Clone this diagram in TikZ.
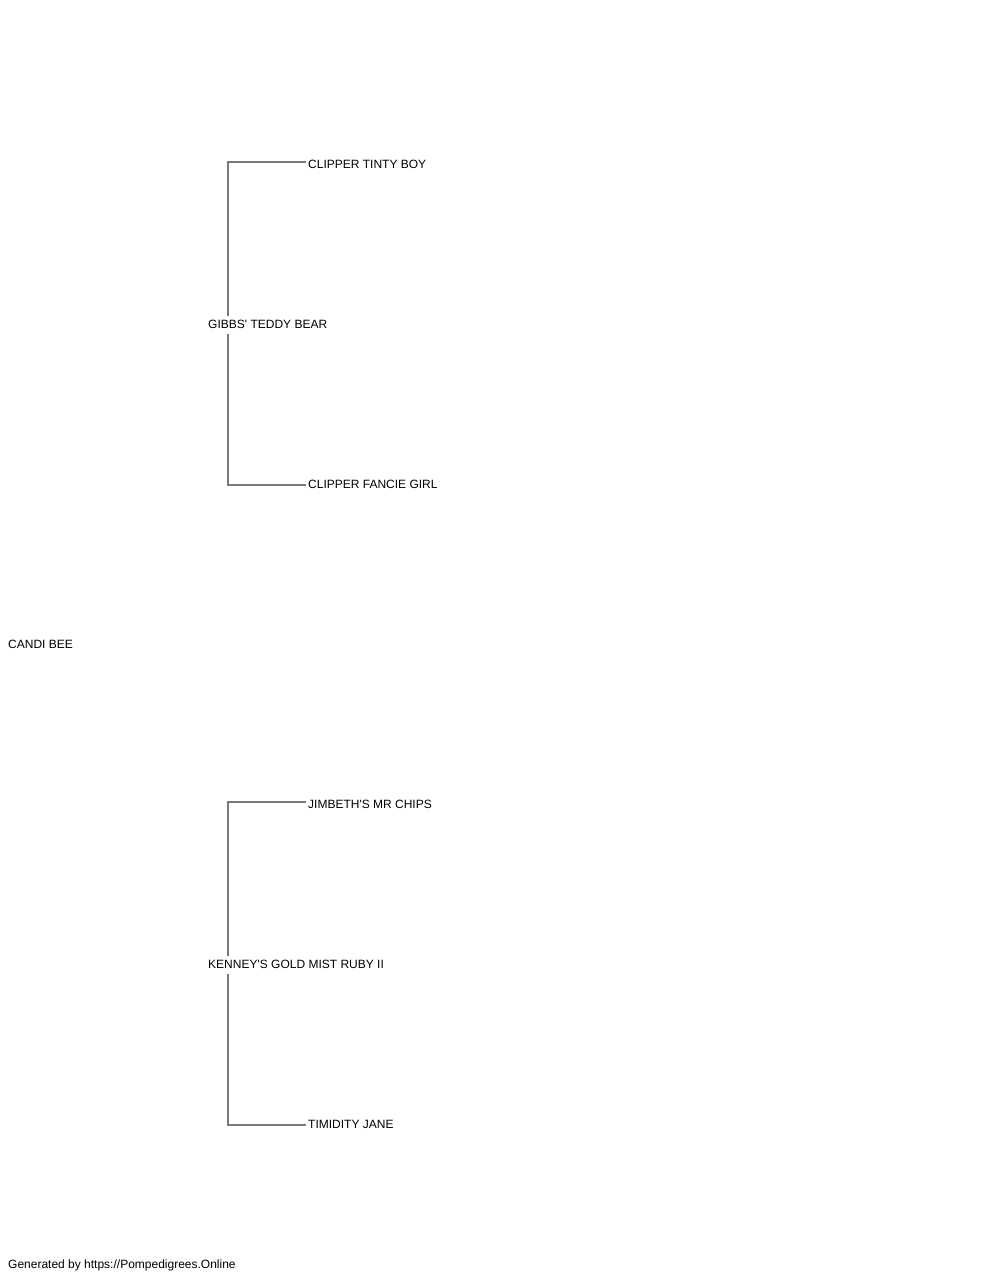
\documentclass[tikz,border=0pt]{standalone}
\usepackage{fontspec}
\setmainfont{Liberation Sans}
\definecolor{linegray}{RGB}{120,120,120}
\begin{document}
\begin{tikzpicture}[x=1pt,y=-1pt,
  leaf/.style={anchor=base west,inner sep=0pt,inner xsep=2pt,text height=12pt,text depth=0pt,font=\fontsize{12}{14}\selectfont},
  lowleaf/.style={leaf,text height=9pt,text depth=3pt},
  parent/.style={anchor=base west,inner sep=0pt,inner xsep=0pt,text height=12pt,text depth=6pt,font=\fontsize{12}{14}\selectfont},
  conn/.style={draw=linegray,line width=1.1pt}]
\useasboundingbox (0,0) rectangle (1000,1280);
\node[parent] (root) at (8,648) {CANDI BEE};
\node[parent] (gibbs) at (208,328) {GIBBS\textquotesingle\ TEDDY BEAR};
\node[parent] (kenney) at (208,968) {KENNEY\textquotesingle S GOLD MIST RUBY II};
\node[leaf] (ctb) at (306,168) {CLIPPER TINTY BOY};
\node[lowleaf] (cfg) at (306,488) {CLIPPER FANCIE GIRL};
\node[leaf] (jmc) at (306,808) {JIMBETH\textquotesingle S MR CHIPS};
\node[lowleaf] (tj) at (306,1128) {TIMIDITY JANE};
\node[parent] (gen) at (8,1268) {Generated by https://Pompedigrees.Online};
\draw[conn] (gibbs.north west) ++(20,0) |- (ctb.west);
\draw[conn] (gibbs.south west) ++(20,0) |- (cfg.west);
\draw[conn] (kenney.north west) ++(20,0) |- (jmc.west);
\draw[conn] (kenney.south west) ++(20,0) |- (tj.west);
\end{tikzpicture}
\end{document}
